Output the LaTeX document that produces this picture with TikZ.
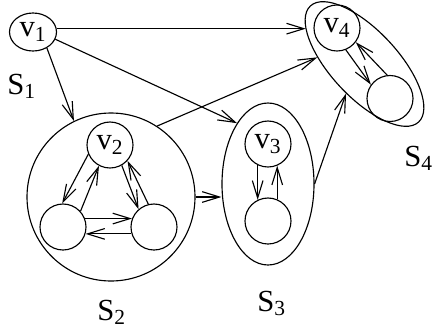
\documentclass[tikz,border=0pt]{standalone}
\usepackage{fontspec}
\setmainfont{Liberation Serif}
\usetikzlibrary{arrows.meta,shapes.geometric}
\begin{document}
\begin{tikzpicture}[x=0.75pt,y=-0.75pt,
  every node/.style={font=\fontsize{23}{23}\selectfont},
  vert/.style={circle,draw,line width=0.85pt,minimum size=34.5pt,inner sep=0pt},
  arr/.style={line width=0.85pt,-{Straight Barb[length=13pt,width=8pt,line width=0.85pt]}},
  grp/.style={draw,line width=0.85pt,inner sep=0pt},
  lab/.style={anchor=base west,inner sep=0pt}]
\useasboundingbox (0,0) rectangle (435,329);
% groups
\node[grp,circle,minimum size=126pt] (S2) at (111,197) {};
\node[grp,ellipse,minimum width=69pt,minimum height=121.5pt] (S3) at (268,184) {};
\node[grp,ellipse,minimum width=119pt,minimum height=50pt,rotate=-47] (S4) at (364.5,64) {};
% vertices
\node[draw,ellipse,line width=0.85pt,minimum width=35.25pt,minimum height=28.5pt,inner sep=0pt] (v1) at (33,32) {v\textsubscript{1}};
\node[vert] (v2) at (110,145) {v\textsubscript{2}};
\node[vert] (L2) at (63,227) {};
\node[vert] (R2) at (154,227) {};
\node[vert] (v3) at (268,144) {v\textsubscript{3}};
\node[vert] (B3) at (268,221) {};
\node[vert] (v4) at (337,28) {v\textsubscript{4}};
\node[vert] (B4) at (390,98.5) {};
% labels
\node[lab] (l1) at (7,94) {S\textsubscript{1}};
\node[lab] (l2) at (97,320) {S\textsubscript{2}};
\node[lab] (l3) at (257,311) {S\textsubscript{3}};
\node[lab] (l4) at (404,166) {S\textsubscript{4}};
% inter-group arrows
\draw[arr] (v1.8) -- (v1.8 -| S4.197);
\draw[arr] (v1.311) -- (S2.116);
\draw[arr] (v1.342) -- (S3.117);
\draw[arr] (S2.57) -- (S4.219);
\draw[arr] (S2.east) -- (S2.east -| S3.west);
\draw[arr] (S3.east) -- (S4.285);
% inside S2
\draw[arr] (v2.203) -- (L2.92);
\draw[arr] (L2.42) -- (v2.242);
\draw[arr] (v2.300) -- (R2.131);
\draw[arr] (R2.104) -- (v2.318);
\draw[arr] (L2.21) -- (R2.159);
\draw[arr] (R2.197) -- (L2.343);
% inside S3
\draw[arr] (v3.244) -- (B3.116);
\draw[arr] (B3.67) -- (v3.293);
% inside S4
\draw[arr] (v4.292) -- (B4.144);
\draw[arr] (B4.97) -- (v4.323);
\end{tikzpicture}
\end{document}
